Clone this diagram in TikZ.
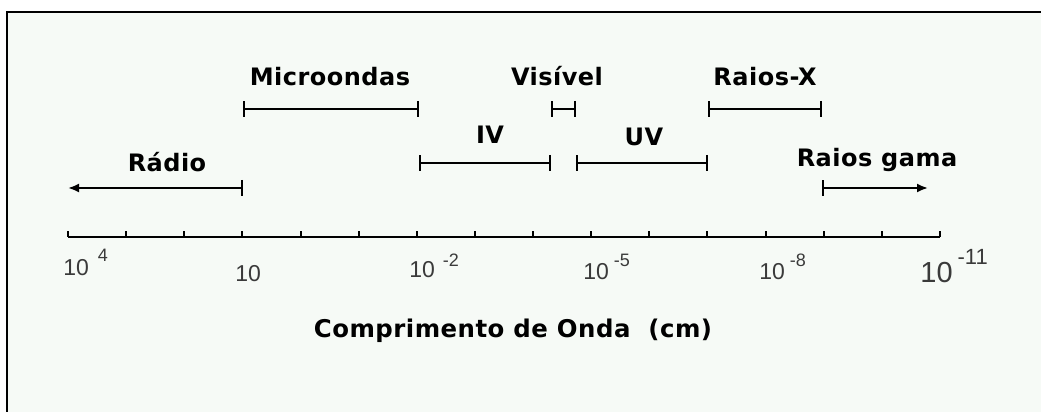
\documentclass[tikz,border=0pt]{standalone}
\usepackage{fontspec}
\usetikzlibrary{arrows.meta}
\usetikzlibrary{calc}
\usepackage{xcolor}

\newfontfamily\rotulofont[LetterSpace=2]{DejaVu Sans}
\newfontfamily\numfont{Liberation Sans}
\definecolor{fundo}{HTML}{F6FAF6}
\definecolor{cinza}{HTML}{3A3A3A}

% 10 com expoente: #1 espaco, #2 elevacao, #3 tamanho, #4 expoente
\newcommand{\potdez}[4]{10\hspace{#1}\raisebox{#2}{\fontsize{#3}{#3}\selectfont #4}}

\begin{document}
\begin{tikzpicture}[x=0.5pt, y=0.5pt]
        % ================= 样式定义 =================
        \tikzset{
            % 标签:粗体
            rotulo/.style={font=\rotulofont\bfseries\fontsize{12}{14}\selectfont, inner sep=0pt, anchor=base},
            % 刻度数字:灰色
            numero/.style={font=\numfont\fontsize{11.5}{13}\selectfont, text=cinza, inner sep=0pt, anchor=base west},
            % 区间:两端竖线
            faixa/.style={line width=1pt, {Bar[width=8pt]}-{Bar[width=8pt]}},
            % 射线:一端箭头
            seta/.style={line width=1pt, {Latex[length=5.5pt,width=4.5pt]}-{Bar[width=8pt]}},
            eixo/.style={line width=1pt}
        }
        \useasboundingbox (0,0) rectangle (1041,412);

        % ================= 0. 边框 (Frame) =================
        \fill[fundo] (7,0) rectangle (1041,400);
        \draw[line width=1pt] (7,0) -- (7,400) -- (1041,400);

        % ================= 1. 坐标轴 (Axis) =================
        \coordinate (e0) at (68, 175);
        \coordinate (e15) at (940, 175);
        \draw[eixo] (e0) -- (e15);
        \foreach \i in {0,...,15}
            \draw[eixo] ($(e0)!\i/15!(e15)$) -- ++(0,6);

        \node[numero] (n4) at (63, 136) {\potdez{4.5pt}{7pt}{9}{4}};
        \node[numero] (n1) at (235, 130) {10};
        \node[numero] (n2) at (409, 134) {\potdez{4pt}{5.5pt}{9}{-2}};
        \node[numero] (n5) at (583, 132) {\potdez{2.5pt}{6.5pt}{9}{-5}};
        \node[numero] (n8) at (759, 132) {\potdez{2.5pt}{6.5pt}{9}{-8}};
        \node[numero, font=\numfont\fontsize{14.5}{16}\selectfont] (n11) at (920, 129)
            {\potdez{2.5pt}{9pt}{11}{-11}};

        \node[rotulo, font=\rotulofont\bfseries\fontsize{12.2}{14}\selectfont] (titulo) at (513, 74)
            {Comprimento de Onda\ \ (cm)};

        % ================= 2. 上排 (Top row) =================
        \coordinate (mA) at (243, 303);
        \coordinate (mB) at (419, 303);
        \coordinate (vA) at (551, 303);
        \coordinate (vB) at (576, 303);
        \coordinate (xA) at (708, 303);
        \coordinate (xB) at (822, 303);

        \draw[faixa] (mA) -- (mB);
        \draw[faixa] (vA) -- (vB);
        \draw[faixa] (xA) -- (xB);

        \node[rotulo] (lMicro) at (330, 326) {Microondas};
        \node[rotulo] (lVis) at (557, 326) {Visível};
        \node[rotulo] (lRX) at (765, 326) {Raios-X};

        % ================= 3. 中排 (Middle row) =================
        \coordinate (iA) at (419, 249);
        \coordinate (iB) at (551, 249);
        \coordinate (uA) at (576, 249);
        \coordinate (uB) at (708, 249);

        \draw[faixa] (iA) -- (iB);
        \draw[faixa] (uA) -- (uB);

        \node[rotulo] (lIV) at (490, 268) {IV};
        \node[rotulo] (lUV) at (644, 266) {UV};

        % ================= 4. 下排 (Bottom row) =================
        \coordinate (rA) at (68, 224);
        \coordinate (rB) at (243, 224);
        \coordinate (gA) at (928, 224);
        \coordinate (gB) at (822, 224);

        \draw[seta] (rA) -- (rB);
        \draw[seta] (gA) -- (gB);

        \node[rotulo] (lRadio) at (167, 240) {Rádio};
        \node[rotulo] (lGama) at (877, 245) {Raios gama};

    \end{tikzpicture}
\end{document}
